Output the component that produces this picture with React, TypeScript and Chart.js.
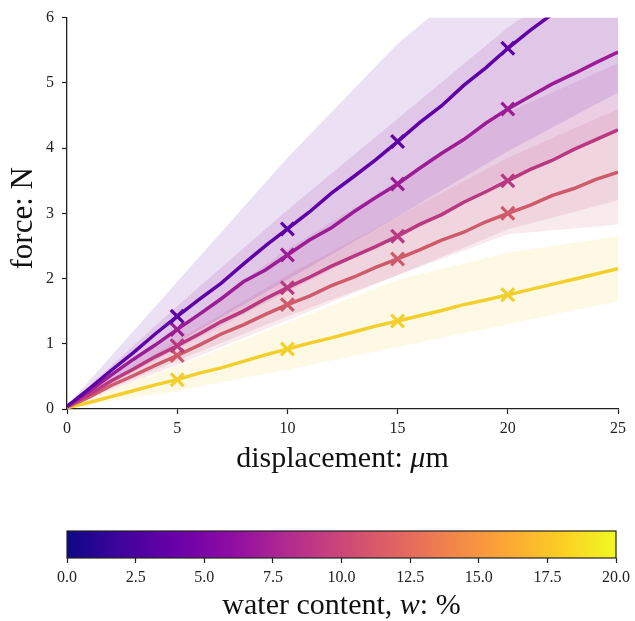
import React, { useEffect, useRef } from 'react';
import { Chart, registerables } from 'chart.js';

Chart.register(...registerables);

// ---------------- data ----------------
const displacement = [0, 1, 2, 3, 4, 5, 6, 7, 8, 9, 10, 11, 12, 13, 14, 15, 16, 17, 18, 19, 20, 21, 22, 23, 24, 25];
const markerDisplacements = [5, 10, 15, 20];

const forceW4 = [0.04, 0.31, 0.59, 0.86, 1.15, 1.42, 1.68, 1.93, 2.22, 2.50, 2.76, 3.02, 3.31, 3.56, 3.82, 4.10, 4.39, 4.65, 4.96, 5.23, 5.53, 5.80, 6.05, 6.30, 6.55, 6.80];
const forceW7 = [0.04, 0.27, 0.52, 0.76, 0.98, 1.22, 1.45, 1.69, 1.95, 2.13, 2.36, 2.59, 2.78, 3.02, 3.24, 3.45, 3.69, 3.92, 4.13, 4.38, 4.60, 4.79, 4.98, 5.14, 5.31, 5.47];
const forceW9 = [0.04, 0.22, 0.43, 0.61, 0.80, 0.97, 1.15, 1.34, 1.50, 1.69, 1.86, 2.02, 2.19, 2.34, 2.49, 2.65, 2.83, 2.98, 3.17, 3.33, 3.50, 3.67, 3.81, 3.98, 4.13, 4.28];
const forceW11 = [0.03, 0.18, 0.36, 0.51, 0.67, 0.82, 0.98, 1.15, 1.29, 1.45, 1.60, 1.73, 1.89, 2.02, 2.17, 2.30, 2.44, 2.59, 2.71, 2.87, 3.00, 3.12, 3.27, 3.38, 3.52, 3.63];
const forceW18 = [0.02, 0.10, 0.19, 0.28, 0.37, 0.45, 0.55, 0.63, 0.73, 0.83, 0.92, 1.01, 1.09, 1.18, 1.27, 1.35, 1.43, 1.51, 1.60, 1.67, 1.75, 1.83, 1.91, 1.99, 2.07, 2.15];

const bandDisplacement = [0, 5, 10, 15, 20, 25];
const upperW4 = [0.05, 1.95, 3.85, 5.6, 7.0, 8.3];
const lowerW4 = [0.03, 1.02, 1.98, 2.95, 3.95, 4.85];
const upperW7 = [0.05, 1.58, 3.05, 4.45, 5.85, 7.0];
const lowerW7 = [0.03, 0.92, 1.80, 2.65, 3.55, 4.3];
const upperW9 = [0.05, 1.25, 2.45, 3.5, 4.55, 5.3];
const lowerW9 = [0.03, 0.74, 1.42, 2.05, 2.75, 3.2];
const upperW11 = [0.04, 1.05, 2.05, 2.95, 3.85, 4.6];
const lowerW11 = [0.02, 0.68, 1.36, 2.05, 2.68, 2.83];
const upperW18 = [0.03, 0.66, 1.32, 1.98, 2.40, 2.65];
const lowerW18 = [0.01, 0.28, 0.60, 0.95, 1.30, 1.65];

const xTicks = [0, 5, 10, 15, 20, 25];
const yTicks = [0, 1, 2, 3, 4, 5, 6];
const colorbarTicks = [0, 2.5, 5, 7.5, 10, 12.5, 15, 17.5, 20];
const plasmaStops = ['#0d0887', '#41049d', '#6a00a8', '#8f0da4', '#b12a90', '#cc4778', '#e16462', '#f2844b', '#fca636', '#fcce25', '#f0f921'];

// ---------------- styles ----------------
const seriesColors = ['#5e01a6', '#9c1c96', '#b9387f', '#cf5a6a', '#f3cf2c'];
const bandAlpha = 0.12;
const SERIF = '"Liberation Serif", "DejaVu Serif", serif';

const seriesValues = [forceW4, forceW7, forceW9, forceW11, forceW18];
const seriesUpper = [upperW4, upperW7, upperW9, upperW11, upperW18];
const seriesLower = [lowerW4, lowerW7, lowerW9, lowerW11, lowerW18];

function hexToRgba(hex: string, a: number) {
  const n = parseInt(hex.slice(1), 16);
  return `rgba(${(n >> 16) & 255},${(n >> 8) & 255},${n & 255},${a})`;
}

type Seg = { t: string; italic?: boolean };
function drawMixed(ctx: CanvasRenderingContext2D, segs: Seg[], cx: number, cy: number, size: number, rotate = false) {
  ctx.save();
  ctx.translate(cx, cy);
  if (rotate) ctx.rotate(-Math.PI / 2);
  ctx.fillStyle = '#111';
  ctx.textBaseline = 'middle';
  ctx.textAlign = 'left';
  let total = 0;
  const widths = segs.map((s) => {
    ctx.font = `${s.italic ? 'italic ' : ''}${size}px ${SERIF}`;
    const w = ctx.measureText(s.t).width;
    total += w;
    return w;
  });
  let x = -total / 2;
  segs.forEach((s, i) => {
    ctx.font = `${s.italic ? 'italic ' : ''}${size}px ${SERIF}`;
    ctx.fillText(s.t, x, 0);
    x += widths[i];
  });
  ctx.restore();
}

export default function App() {
  const mainRef = useRef<HTMLCanvasElement>(null);
  const barRef = useRef<HTMLCanvasElement>(null);

  useEffect(() => {
    const datasets: any[] = [];
    seriesValues.forEach((vals, i) => {
      datasets.push({
        data: displacement.map((x, j) => ({ x, y: vals[j] })),
        borderColor: seriesColors[i],
        backgroundColor: seriesColors[i],
        borderWidth: 3.5,
        tension: 0,
        fill: false,
        pointStyle: 'crossRot',
        pointRadius: (c: any) => (markerDisplacements.includes(displacement[c.dataIndex]) ? 9 : 0),
        pointBorderWidth: 3.2,
        pointBorderColor: seriesColors[i],
        pointHoverRadius: 0,
        order: 0,
      });
    });
    seriesValues.forEach((_, i) => {
      datasets.push({
        data: bandDisplacement.map((x, j) => ({ x, y: seriesLower[i][j] })),
        borderWidth: 0,
        pointRadius: 0,
        fill: false,
        order: 10,
      });
      datasets.push({
        data: bandDisplacement.map((x, j) => ({ x, y: seriesUpper[i][j] })),
        borderWidth: 0,
        pointRadius: 0,
        fill: '-1',
        backgroundColor: hexToRgba(seriesColors[i], bandAlpha),
        order: 10,
      });
    });

    const tickFont = { family: SERIF, size: 16 };
    const mainTitles = {
      id: 'mainTitles',
      afterDraw(chart: any) {
        const { ctx, chartArea } = chart;
        drawMixed(ctx, [{ t: 'displacement: ' }, { t: 'μ', italic: true }, { t: 'm' }], (chartArea.left + chartArea.right) / 2, 459, 30);
        drawMixed(ctx, [{ t: 'force: N' }], 24, (chartArea.top + chartArea.bottom) / 2 + 5, 31, true);
      },
    };

    const main = new Chart(mainRef.current!, {
      type: 'line',
      data: { datasets },
      options: {
        animation: false,
        responsive: false,
        maintainAspectRatio: false,
        events: [],
        layout: { padding: { top: 15, right: 17, left: 0, bottom: 0 } },
        plugins: { legend: { display: false }, tooltip: { enabled: false }, filler: { propagate: false } },
        scales: {
          x: {
            type: 'linear',
            min: 0,
            max: 25,
            afterFit: (s: any) => { s.height = 81; },
            afterBuildTicks: (s: any) => { s.ticks = xTicks.map((v) => ({ value: v })); },
            grid: { display: true, drawOnChartArea: false, drawTicks: true, tickLength: 5, tickWidth: 1.2, color: '#222' },
            border: { display: true, color: '#222', width: 1.3 },
            ticks: { font: tickFont, color: '#222', padding: 5, maxRotation: 0 },
          },
          y: {
            type: 'linear',
            min: 0,
            max: 6,
            afterFit: (s: any) => { s.width = 67; },
            afterBuildTicks: (s: any) => { s.ticks = yTicks.map((v) => ({ value: v })); },
            grid: { display: true, drawOnChartArea: false, drawTicks: true, tickLength: 5, tickWidth: 1.2, color: '#222' },
            border: { display: true, color: '#222', width: 1.3 },
            ticks: { font: tickFont, color: '#222', padding: 8 },
          },
        },
      },
      plugins: [mainTitles],
    } as any);

    const barPlugin = {
      id: 'colorbar',
      beforeDatasetsDraw(chart: any) {
        const { ctx, chartArea } = chart;
        const g = ctx.createLinearGradient(chartArea.left, 0, chartArea.right, 0);
        plasmaStops.forEach((c, i) => g.addColorStop(i / (plasmaStops.length - 1), c));
        ctx.save();
        ctx.fillStyle = g;
        ctx.fillRect(chartArea.left, chartArea.top, chartArea.right - chartArea.left, chartArea.bottom - chartArea.top);
        ctx.strokeStyle = '#222';
        ctx.lineWidth = 1.2;
        ctx.strokeRect(chartArea.left, chartArea.top, chartArea.right - chartArea.left, chartArea.bottom - chartArea.top);
        ctx.restore();
      },
      afterDraw(chart: any) {
        const { ctx, chartArea } = chart;
        drawMixed(ctx, [{ t: 'water content, ' }, { t: 'w', italic: true }, { t: ': %' }], (chartArea.left + chartArea.right) / 2, 116, 30);
      },
    };

    const bar = new Chart(barRef.current!, {
      type: 'scatter',
      data: { datasets: [{ data: [] }] },
      options: {
        animation: false,
        responsive: false,
        maintainAspectRatio: false,
        events: [],
        layout: { padding: { top: 41, right: 17, left: 67, bottom: 0 } },
        plugins: { legend: { display: false }, tooltip: { enabled: false } },
        scales: {
          x: {
            type: 'linear',
            min: 0,
            max: 20,
            afterFit: (s: any) => { s.height = 63; },
            afterBuildTicks: (s: any) => { s.ticks = colorbarTicks.map((v) => ({ value: v })); },
            grid: { display: true, drawOnChartArea: false, drawTicks: true, tickLength: 5, tickWidth: 1.2, color: '#222' },
            border: { display: false },
            ticks: { font: tickFont, color: '#222', padding: 5, maxRotation: 0, callback: (v: any) => Number(v).toFixed(1) },
          },
          y: { display: false, min: 0, max: 1 },
        },
      },
      plugins: [barPlugin],
    } as any);

    return () => {
      main.destroy();
      bar.destroy();
    };
  }, []);

  return (
    <div style={{ position: 'absolute', left: 0, top: 0, width: 635, height: 621, background: '#fff' }}>
      <canvas ref={mainRef} width={635} height={490} style={{ position: 'absolute', left: 0, top: 0, width: 635, height: 490 }} />
      <canvas ref={barRef} width={635} height={131} style={{ position: 'absolute', left: 0, top: 490, width: 635, height: 131 }} />
    </div>
  );
}
